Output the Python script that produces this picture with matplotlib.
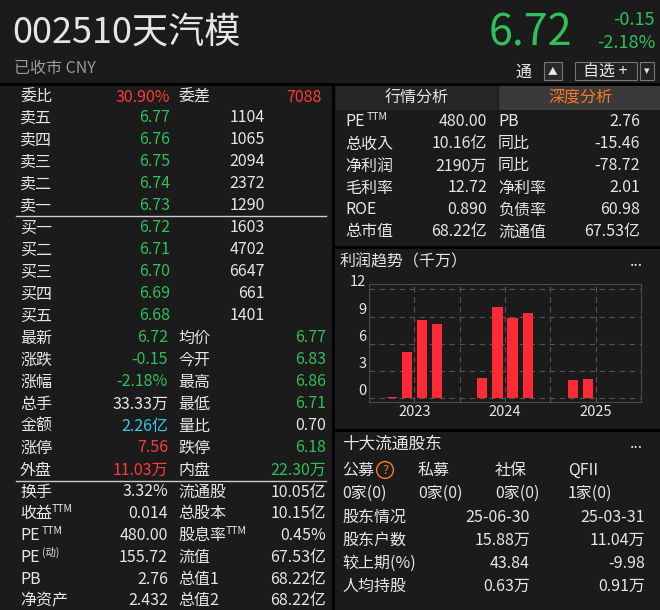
import glob
import matplotlib.pyplot as plt
from matplotlib import font_manager as fm
from matplotlib.patches import Rectangle

cjk = 'Noto Sans CJK SC'
for f in glob.glob('/usr/share/fonts/**/*CJK*', recursive=True) + glob.glob('/usr/share/fonts/**/*cjk*', recursive=True):
    try:
        fm.fontManager.addfont(f)
    except Exception:
        pass
names = sorted({f.name for f in fm.fontManager.ttflist if 'CJK' in f.name})
if names:
    cjk = next((n for n in names if n.endswith('SC')), names[0])
plt.rcParams['font.family'] = [cjk, 'DejaVu Sans']

BG = '#1b1b1b'
WHITE = '#e6e6e6'
GRAY = '#9a9a9a'
RED = '#ff3a3a'
GREEN = '#2fc05c'
CYAN = '#3cc8e6'
ORANGE = '#ff7b22'
FS = 11.5

code = '002510'
name = '天汽模'
price = '6.72'
change = '-0.15'
change_pct = '-2.18%'

ask_labels = ['卖五', '卖四', '卖三', '卖二', '卖一']
ask_prices = ['6.77', '6.76', '6.75', '6.74', '6.73']
ask_vols = ['1104', '1065', '2094', '2372', '1290']
bid_labels = ['买一', '买二', '买三', '买四', '买五']
bid_prices = ['6.72', '6.71', '6.70', '6.69', '6.68']
bid_vols = ['1603', '4702', '6647', '661', '1401']

quote_rows = [
    ('最新', '6.72', GREEN, '均价', '6.77', GREEN),
    ('涨跌', '-0.15', GREEN, '今开', '6.83', GREEN),
    ('涨幅', '-2.18%', GREEN, '最高', '6.86', GREEN),
    ('总手', '33.33万', WHITE, '最低', '6.71', GREEN),
    ('金额', '2.26亿', CYAN, '量比', '0.70', WHITE),
    ('涨停', '7.56', RED, '跌停', '6.18', GREEN),
    ('外盘', '11.03万', RED, '内盘', '22.30万', GREEN),
]
fund_rows = [
    ('换手', '', '3.32%', '流通股', '', '10.05亿'),
    ('收益', 'TTM', '0.014', '总股本', '', '10.15亿'),
    ('PE', 'TTM', '480.00', '股息率', 'TTM', '0.45%'),
    ('PE', '(动)', '155.72', '流值', '', '67.53亿'),
    ('PB', '', '2.76', '总值1', '', '68.22亿'),
    ('净资产', '', '2.432', '总值2', '', '68.22亿'),
]
deep_rows = [
    ('PE', 'TTM', '480.00', 'PB', '2.76'),
    ('总收入', '', '10.16亿', '同比', '-15.46'),
    ('净利润', '', '2190万', '同比', '-78.72'),
    ('毛利率', '', '12.72', '净利率', '2.01'),
    ('ROE', '', '0.890', '负债率', '60.98'),
    ('总市值', '', '68.22亿', '流通值', '67.53亿'),
]

# profit trend (千万), quarterly
profit_x = [0, 1, 2, 3, 6, 7, 8, 9, 12, 13]
profit = [0.1, 5.1, 8.6, 8.2, 2.2, 10.1, 8.9, 9.4, 2.0, 2.1]
year_pos = [1.5, 7.5, 13.5]
year_labels = ['2023', '2024', '2025']

holder_types = ['公募', '私募', '社保', 'QFII']
holder_counts = ['0家(0)', '0家(0)', '0家(0)', '1家(0)']
holder_rows = [
    ('股东情况', '25-06-30', '25-03-31'),
    ('股东户数', '15.88万', '11.04万'),
    ('较上期(%)', '43.84', '-9.98'),
    ('人均持股', '0.63万', '0.91万'),
]

W, H = 660, 610
fig = plt.figure(figsize=(6.6, 6.1), dpi=100, facecolor=BG)


def t(x, y, s, c=WHITE, size=FS, ha='left', **kw):
    return fig.text(x / W, 1 - y / H, s, color=c, fontsize=size, ha=ha, va='center', **kw)


def label(x, y, s, sup=''):
    t(x, y, s)
    if sup:
        # rough width of main label in px
        w = sum(16 if ord(ch) > 255 else 9 for ch in s) + (4 if s == 'PE' else 0)
        t(x + w, y - 5, sup, size=7.5)


def rect(x, y, w, h, c, ec='none'):
    fig.patches.append(Rectangle((x / W, 1 - (y + h) / H), w / W, h / H,
                                 transform=fig.transFigure, fc=c, ec=ec, lw=0.8))


def hline(x0, x1, y, c='#3a3a3a', lw=1):
    fig.add_artist(plt.Line2D([x0 / W, x1 / W], [1 - y / H, 1 - y / H], color=c, lw=lw))


# header
t(12, 33, code + name, WHITE, 26)
t(14, 68, '已收市 CNY', GRAY, FS)
t(572, 33, price, GREEN, 31, ha='right')
t(655, 20, change, GREEN, 13, ha='right')
t(655, 43, change_pct, GREEN, 13, ha='right')
t(516, 72, '通', WHITE, FS)
rect(544, 62, 18, 18, '#2a2a2a', '#777777')
t(553, 71, '▲', WHITE, 7, ha='center')
rect(575, 62, 62, 18, '#222222', '#777777')
t(583, 71, '自选 +', WHITE, FS)
rect(640, 62, 14, 18, '#222222', '#777777')
t(647, 71, '▾', WHITE, 8, ha='center')
hline(0, 660, 84, '#000000', 2)

# left panel
t(20, 97, '委比', WHITE)
t(170, 97, '30.90%', RED, ha='right')
t(178, 97, '委差', WHITE)
t(322, 97, '7088', RED, ha='right')
y = 118
for lab, p, v in zip(ask_labels, ask_prices, ask_vols):
    t(20, y, lab)
    t(170, y, p, GREEN, ha='right')
    t(265, y, v, ha='right')
    y += 22
hline(16, 326, 216, '#cccccc', 1)
y = 228
for lab, p, v in zip(bid_labels, bid_prices, bid_vols):
    t(20, y, lab)
    t(170, y, p, GREEN, ha='right')
    t(265, y, v, ha='right')
    y += 22
for l1, v1, c1, l2, v2, c2 in quote_rows:
    t(20, y, l1)
    t(168, y, v1, c1, ha='right')
    t(178, y, l2)
    t(326, y, v2, c2, ha='right')
    y += 22
hline(16, 326, 481, '#cccccc', 1)
y = 492
for l1, s1, v1, l2, s2, v2 in fund_rows:
    label(20, y, l1, s1)
    t(168, y, v1, ha='right')
    label(178, y, l2, s2)
    t(326, y, v2, ha='right')
    y += 21.8
fig.add_artist(plt.Line2D([333 / W] * 2, [0, 1 - 84 / H], color='#000000', lw=2))

# right panel tabs
rect(336, 86, 162, 24, '#252525')
rect(499, 86, 161, 24, '#3a3a3a')
t(417, 98, '行情分析', WHITE, ha='center')
t(580, 98, '深度分析', ORANGE, ha='center')
y = 122
for l1, s1, v1, l2, v2 in deep_rows:
    label(345, y, l1, s1)
    t(487, y, v1, ha='right')
    t(498, y, l2)
    t(640, y, v2, ha='right')
    y += 22
hline(336, 660, 247, '#000000', 2)
t(340, 262, '利润趋势（千万）', WHITE)
t(636, 262, '...', WHITE, ha='center')

ax = fig.add_axes([369 / W, 1 - 402 / H, 272 / W, 118 / H])
ax.set_facecolor(BG)
ax.bar(profit_x, profit, width=0.68, color='#ff2a36')
ax.set_xlim(-1.5, 16.5)
ax.set_ylim(-0.4, 12.6)
ax.set_yticks([0, 3, 6, 9, 12])
ax.set_xticks(year_pos)
ax.set_xticklabels(year_labels)
ax.tick_params(colors=WHITE, labelsize=10.5, length=0, pad=2)
for lbl in ax.get_yticklabels():
    lbl.set_verticalalignment('bottom')
ax.grid(True, color='#555555', ls=(0, (5, 4)), lw=0.8)
for v in [4.5, 10.5]:
    ax.axvline(v, color='#555555', ls=(0, (5, 4)), lw=0.8)
ax.set_axisbelow(True)
for s in ax.spines.values():
    s.set_color('#4a4a4a')

hline(336, 660, 430, '#000000', 2)
t(342, 444, '十大流通股东', WHITE, 12)
t(636, 444, '...', WHITE, ha='center')
for xx, lab, cnt in zip([342, 418, 495, 568], holder_types, holder_counts):
    t(xx, 470, lab)
    t(xx, 493, cnt)
t(385, 470, '?', ORANGE, 9, ha='center',
  bbox=dict(boxstyle='circle,pad=0.15', fc='none', ec=ORANGE))
y = 517
for l, a, b in holder_rows:
    t(342, y, l)
    t(530, y, a, ha='right')
    t(645, y, b, ha='right')
    y += 23

fig.savefig('out.png', dpi=100, facecolor=BG)
